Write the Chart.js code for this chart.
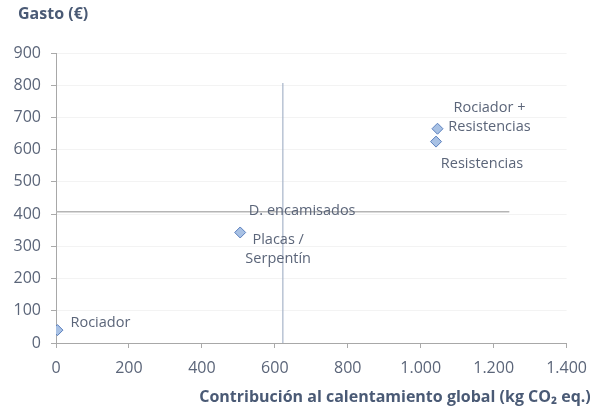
<!DOCTYPE html>
<html><head><meta charset="utf-8">
<script src="https://cdn.jsdelivr.net/npm/chart.js@4"></script>
<style>html,body{margin:0;padding:0;background:#fff}#w{width:598px;height:409px}</style>
</head><body><div id="w"><canvas id="c"></canvas></div>
<script>
const pointNames = ['Rociador','Placas / Serpentín','Resistencias','Rociador + Resistencias'];
const emissions = [4, 505, 1042, 1046];
const costs = [40, 343, 625, 665];
const xTickLabels = ['0','200','400','600','800','1.000','1.200','1.400'];
const yTickLabels = ['0','100','200','300','400','500','600','700','800','900'];
const vLine = {x:[622,622], y:[0,807]};
const hLine = {x:[0,1243], y:[407,407]};
const yTitle = 'Gasto (€)';
const xTitle = 'Contribución al calentamiento global (kg CO₂ eq.)';
// label texts with pixel offsets from their point
const labels = [
  {i:0, lines:['Rociador'], dx:13, dy:-7, align:'left'},
  {i:1, lines:['D. encamisados'], dx:62, dy:-22, align:'center'},
  {i:1, lines:['Placas /','Serpentín'], dx:38, dy:7, align:'center'},
  {i:3, lines:['Rociador +','Resistencias'], dx:52, dy:-21, align:'center'},
  {i:2, lines:['Resistencias'], dx:46, dy:22, align:'center'}
];

const FONT = '"Open Sans", Lato, sans-serif';
const txtColor = '#5b6579';
const titleColor = '#4a5a75';

const textPlugin = {
  id:'txt',
  afterDatasetsDraw(chart){
    const ctx = chart.ctx, xs = chart.scales.x, ys = chart.scales.y;
    ctx.save();
    ctx.fillStyle = txtColor;
    ctx.font = '14.5px ' + FONT;
    ctx.textBaseline = 'middle';
    labels.forEach(l=>{
      const px = xs.getPixelForValue(emissions[l.i]);
      const py = ys.getPixelForValue(costs[l.i]);
      ctx.textAlign = l.align;
      l.lines.forEach((t,k)=>ctx.fillText(t, px+l.dx, py+l.dy+k*19));
    });
    ctx.fillStyle = titleColor;
    ctx.font = 'bold 16px ' + FONT;
    ctx.textAlign = 'left';
    ctx.fillText(yTitle, 18, 14);
    ctx.textAlign = 'center';
    ctx.fillText(xTitle, 395, 397);
    ctx.restore();
  }
};

new Chart(document.getElementById('c'), {
  type:'scatter',
  data:{datasets:[
    {data: emissions.map((x,k)=>({x, y:costs[k]})), pointStyle:'rectRot', pointRadius:5.5, pointHoverRadius:5.5,
     backgroundColor:'#a8c1e4', borderColor:'#5a7fbd', borderWidth:1},
    {data: vLine.x.map((x,k)=>({x, y:vLine.y[k]})), showLine:true, pointRadius:0, borderColor:'#a7b4c9', borderWidth:1.2},
    {data: hLine.x.map((x,k)=>({x, y:hLine.y[k]})), showLine:true, pointRadius:0, borderColor:'#b5b5b5', borderWidth:1.5}
  ]},
  options:{
    responsive:true, maintainAspectRatio:false, animation:false,
    layout:{padding:{left:0, right:29, top:53, bottom:0}},
    plugins:{legend:{display:false}, tooltip:{enabled:false}},
    scales:{
      x:{type:'linear', min:0, max:1400,
        afterBuildTicks(s){ s.ticks = xTickLabels.map((_,k)=>({value:k*200})); },
        afterFit(s){ s.height = 66; },
        ticks:{color:txtColor, font:{size:16, family:FONT}, padding:11,
          callback:(v)=>xTickLabels[Math.round(v/200)]},
        grid:{drawOnChartArea:false, tickLength:5, tickColor:'#aaaaaa'},
        border:{color:'#a8a8a8', width:1}
      },
      y:{type:'linear', min:0, max:900,
        afterBuildTicks(s){ s.ticks = yTickLabels.map((_,k)=>({value:k*100})); },
        afterFit(s){ s.width = 56; },
        ticks:{color:txtColor, font:{size:16, family:FONT}, padding:10,
          callback:(v)=>yTickLabels[Math.round(v/100)]},
        grid:{color:'#f3f3f3', tickLength:5, tickColor:'#aaaaaa'},
        border:{color:'#a8a8a8', width:1}
      }
    }
  },
  plugins:[textPlugin]
});
</script></body></html>
